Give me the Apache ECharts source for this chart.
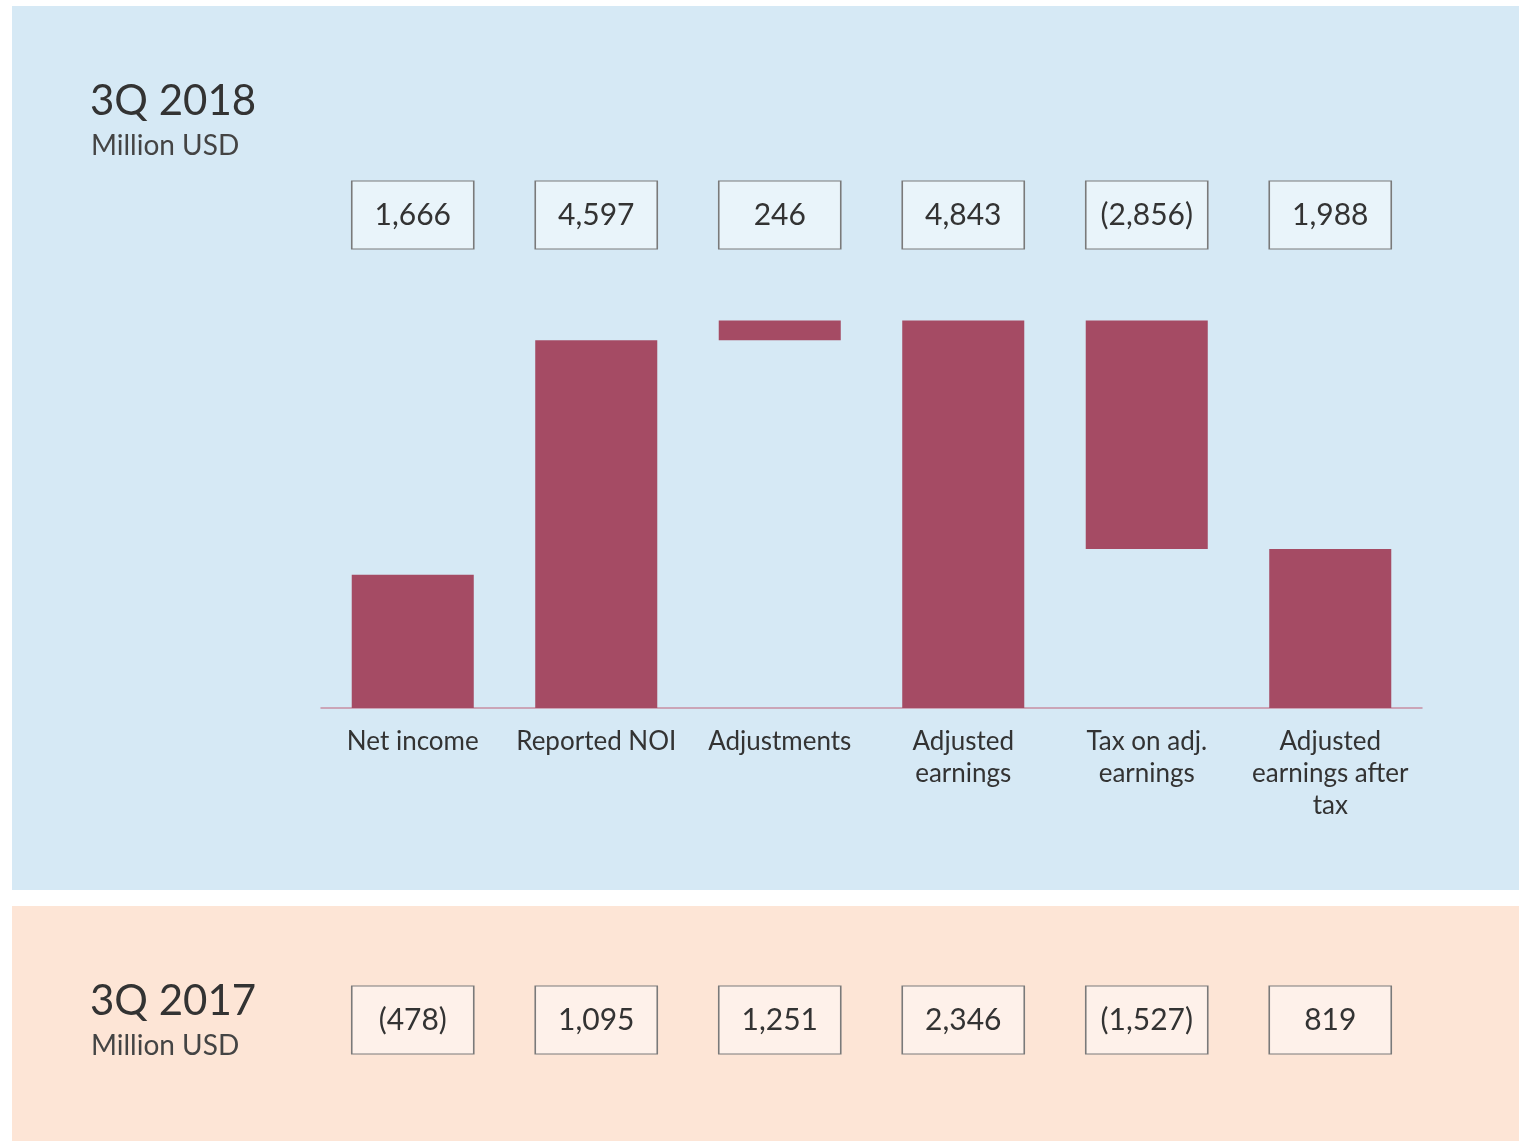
<!DOCTYPE html>
<html>
<head>
<meta charset="utf-8">
<script src="https://cdn.jsdelivr.net/npm/echarts@6/dist/echarts.min.js"></script>
<style>
  html, body { margin: 0; padding: 0; background: #fff; }
  #main { width: 1519px; height: 1141px; }
</style>
</head>
<body>
<div id="main"></div>
<script>
// categories and values
const categories = ['Net income', 'Reported NOI', 'Adjustments', 'Adjusted\nearnings', 'Tax on adj.\nearnings', 'Adjusted\nearnings after\ntax']
const kinds = ['total', 'total', 'delta', 'total', 'delta', 'total']
const values2018 = [1666, 4597, 246, 4843, -2856, 1988]
const values2017 = [-478, 1095, 1251, 2346, -1527, 819]

const barColor = '#a54b64'
const textColor = '#333333'
const fontName = 'Lato'

// waterfall: invisible base + visible bar
const baseData = []
const barData = []
let running = 0
values2018.forEach(function (v, i) {
  if (kinds[i] === 'total') {
    baseData.push(0)
    barData.push(v)
    running = v
  } else {
    const next = running + v
    baseData.push(Math.min(running, next))
    barData.push(Math.abs(v))
    running = next
  }
})

function fmt(v) {
  const s = Math.abs(v).toLocaleString('en-US')
  return v < 0 ? '(' + s + ')' : s
}

const chart = echarts.init(document.getElementById('main'))

const gridX = { left: 321, width: 1101 }

chart.setOption({
  animation: false,
  graphic: [
    { type: 'rect', z: -10, shape: { x: 12, y: 6, width: 1507, height: 884 }, style: { fill: '#d6e9f5' } },
    { type: 'rect', z: -10, shape: { x: 12, y: 906, width: 1507, height: 235 }, style: { fill: '#fde5d6' } },
    { type: 'text', left: 90, top: 80, style: { text: '3Q 2018', font: '42px ' + fontName, fill: textColor } },
    { type: 'text', left: 91, top: 132, style: { text: 'Million USD', font: '28px ' + fontName, fill: '#444' } },
    { type: 'text', left: 90, top: 980, style: { text: '3Q 2017', font: '42px ' + fontName, fill: textColor } },
    { type: 'text', left: 91, top: 1032, style: { text: 'Million USD', font: '28px ' + fontName, fill: '#444' } }
  ],
  grid: [
    { left: gridX.left, width: gridX.width, top: 308, height: 400 },
    { left: gridX.left, width: gridX.width, top: 181, height: 68 },
    { left: gridX.left, width: gridX.width, top: 986, height: 68 }
  ],
  xAxis: [
    {
      type: 'category', gridIndex: 0, data: categories,
      axisLine: { lineStyle: { color: '#c78fa2', width: 1.5 } },
      axisTick: { show: false },
      axisLabel: { color: textColor, fontSize: 26, lineHeight: 32, fontFamily: fontName, margin: 18, interval: 0 }
    },
    { type: 'category', gridIndex: 1, data: categories, show: false },
    { type: 'category', gridIndex: 2, data: categories, show: false }
  ],
  yAxis: [
    { type: 'value', gridIndex: 0, min: 0, max: 5000, show: false, splitLine: { show: false } },
    { type: 'value', gridIndex: 1, min: 0, max: 1, show: false, splitLine: { show: false } },
    { type: 'value', gridIndex: 2, min: 0, max: 1, show: false, splitLine: { show: false } }
  ],
  series: [
    {
      type: 'bar', stack: 'wf', xAxisIndex: 0, yAxisIndex: 0,
      data: baseData, barWidth: '66.5%',
      itemStyle: { color: 'transparent' }, silent: true
    },
    {
      type: 'bar', stack: 'wf', xAxisIndex: 0, yAxisIndex: 0,
      data: barData, barWidth: '66.5%',
      itemStyle: { color: barColor }
    },
    {
      type: 'scatter', xAxisIndex: 1, yAxisIndex: 1,
      symbol: 'rect', symbolSize: [122, 68],
      data: values2018.map(function (v, i) { return { value: [i, 0.5], raw: v } }),
      itemStyle: { color: '#e9f4fa', borderColor: '#7a7a7a', borderWidth: 1.2, opacity: 1 },
      label: {
        show: true, position: 'inside', color: textColor, fontSize: 30, fontFamily: fontName,
        formatter: function (p) { return fmt(p.data.raw) }
      }
    },
    {
      type: 'scatter', xAxisIndex: 2, yAxisIndex: 2,
      symbol: 'rect', symbolSize: [122, 68],
      data: values2017.map(function (v, i) { return { value: [i, 0.5], raw: v } }),
      itemStyle: { color: '#fef1ea', borderColor: '#7a7a7a', borderWidth: 1.2, opacity: 1 },
      label: {
        show: true, position: 'inside', color: textColor, fontSize: 30, fontFamily: fontName,
        formatter: function (p) { return fmt(p.data.raw) }
      }
    }
  ]
})
</script>
</body>
</html>
